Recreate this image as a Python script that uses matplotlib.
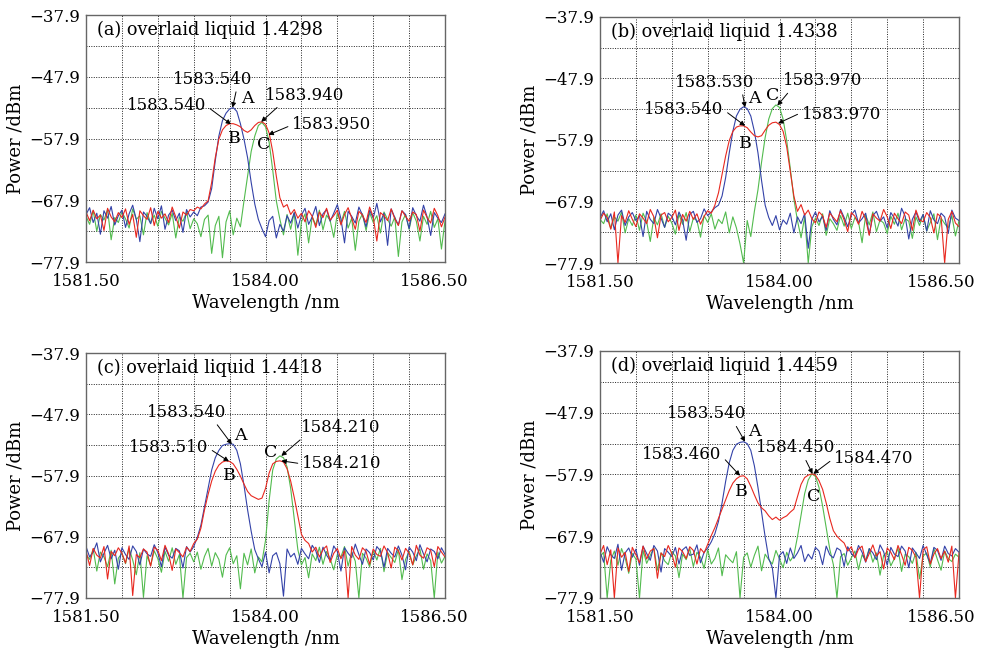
import matplotlib
matplotlib.use('Agg')
import matplotlib.pyplot as plt
import matplotlib.transforms as mtransforms
import numpy as np

plt.rcParams['font.family'] = ['DejaVu Serif']
plt.rcParams['font.size'] = 12

# wavelength grid, 0.05 nm step
wl = np.linspace(1581.5, 1586.5, 101)

# ---- (a) overlaid liquid 1.4298
a_blue = [
    -70.2, -69.1, -71.5, -70.0, -73.4, -69.6, -70.8, -68.9, -71.9, -70.4,
    -69.5, -72.3, -70.1, -68.7, -71.0, -74.6, -69.8, -70.5, -71.7, -69.2,
    -70.9, -68.8, -72.6, -70.3, -69.5, -71.2, -70.0, -73.1, -69.4, -70.6,
    -69.8, -70.4, -69.0, -68.8, -68.2, -66.0, -61.5, -57.5, -55.0, -53.8,
    -53.1, -52.9, -53.5, -55.5, -58.0, -61.0, -65.0, -68.5, -71.0, -72.5,
    -73.8, -71.2, -70.5, -74.0, -71.8, -72.9, -70.4, -71.6, -69.9, -72.4,
    -70.3, -69.2, -71.8, -70.6, -68.9, -72.0, -70.1, -69.4, -71.3, -70.0,
    -68.6, -70.9, -74.8, -69.7, -70.5, -71.6, -69.0, -70.3, -72.2, -69.5,
    -70.8, -68.4, -71.4, -70.0, -75.2, -69.3, -70.7, -71.9, -69.6, -70.2,
    -72.5, -69.1, -70.4, -71.3, -68.7, -70.6, -73.6, -69.9, -70.8, -71.5,
    -70.1]
a_red = [
    -69.8, -71.2, -69.5, -70.9, -70.3, -72.8, -69.2, -70.6, -71.4, -69.9,
    -70.7, -69.3, -71.8, -70.2, -73.9, -69.6, -70.4, -71.0, -69.1, -72.0,
    -69.7, -70.8, -70.1, -71.5, -69.0, -70.6, -72.4, -69.8, -70.3, -69.4,
    -69.6, -69.0, -69.3, -68.5, -68.0, -65.0, -61.0, -58.0, -56.5, -55.8,
    -55.5, -55.5, -55.7, -56.0, -56.6, -56.9, -56.5, -55.8, -55.3, -55.2,
    -55.6, -57.0, -60.0, -64.0, -67.5, -69.0, -68.6, -70.2, -69.4, -70.8,
    -70.0, -71.4, -69.6, -70.5, -72.3, -69.8, -70.7, -69.2, -71.1, -70.4,
    -69.5, -71.9, -70.2, -69.1, -70.8, -72.6, -69.7, -70.3, -71.5, -69.0,
    -70.6, -74.5, -69.9, -70.4, -71.2, -69.3, -70.9, -72.0, -69.6, -70.5,
    -71.3, -69.8, -70.2, -72.9, -69.5, -70.7, -71.6, -69.2, -70.4, -72.2,
    -70.6]
a_green = [
    -70.5, -71.8, -69.6, -72.9, -70.2, -71.1, -69.4, -74.3, -70.7, -71.5,
    -69.8, -70.9, -72.4, -69.3, -71.0, -70.4, -73.5, -69.9, -71.6, -70.3,
    -72.1, -69.7, -70.8, -71.9, -70.0, -74.0, -70.6, -71.3, -69.8, -72.5,
    -70.9, -71.7, -73.8, -71.0, -70.3, -76.5, -72.0, -70.5, -77.2, -71.4,
    -69.6, -73.5, -70.8, -72.2, -68.0, -64.0, -60.0, -57.5, -55.8, -55.3,
    -56.0, -58.5, -63.0, -68.0, -71.0, -73.5, -70.2, -72.6, -69.9, -76.8,
    -71.4, -70.1, -74.8, -70.6, -71.9, -69.5, -72.7, -70.3, -71.2, -73.9,
    -70.0, -71.6, -69.7, -72.4, -70.8, -76.0, -71.3, -70.1, -72.8, -69.9,
    -71.5, -70.4, -73.2, -69.8, -71.0, -72.1, -70.6, -77.0, -71.4, -70.2,
    -72.6, -69.9, -71.3, -74.5, -70.5, -71.8, -69.7, -72.3, -70.9, -75.8,
    -71.2]

# ---- (b) overlaid liquid 1.4338
b_blue = [
    -70.6, -69.4, -71.2, -69.9, -72.5, -70.1, -69.3, -71.8, -70.4, -69.7,
    -71.0, -70.2, -73.6, -69.5, -70.8, -71.5, -69.2, -70.6, -72.1, -69.8,
    -70.3, -71.7, -69.6, -70.9, -74.2, -70.0, -69.5, -71.3, -70.7, -69.1,
    -70.2, -69.6, -68.9, -68.5, -67.0, -64.0, -60.0, -56.5, -54.0, -52.9,
    -52.5, -52.8, -54.0, -56.5, -60.0, -64.5, -68.5, -70.5, -71.8, -70.2,
    -72.5, -70.9, -71.6, -69.8, -73.0, -70.4, -71.5, -69.9, -75.5, -70.8,
    -69.6, -71.2, -70.3, -72.6, -69.4, -70.8, -71.7, -69.2, -70.5, -72.0,
    -70.1, -69.3, -71.4, -70.7, -69.8, -73.3, -70.2, -69.5, -71.1, -70.4,
    -72.2, -69.7, -70.6, -71.9, -69.0, -70.3, -74.0, -70.8, -69.6, -71.2,
    -70.0, -72.7, -69.4, -70.9, -71.5, -69.8, -70.4, -73.1, -69.3, -70.6,
    -71.0]
b_red = [
    -71.0, -69.8, -70.5, -72.4, -69.6, -77.9, -70.2, -71.3, -69.4, -70.8,
    -72.0, -69.9, -70.6, -71.5, -69.2, -70.4, -73.8, -70.1, -69.7, -71.2,
    -70.5, -69.3, -72.6, -70.0, -71.1, -69.5, -70.8, -69.9, -71.6, -70.3,
    -69.4, -69.8, -68.5, -66.5, -63.5, -60.5, -58.0, -56.5, -55.8, -55.6,
    -55.6, -55.9, -56.6, -57.2, -57.4, -57.2, -56.3, -55.5, -55.1, -55.0,
    -55.4, -56.5, -59.0, -63.0, -67.0, -69.5, -68.4, -70.1, -69.3, -70.7,
    -71.4, -69.6, -70.2, -72.1, -69.8, -70.5, -71.2, -69.4, -70.9, -72.8,
    -69.7, -70.3, -71.6, -69.5, -70.8, -73.4, -69.9, -70.6, -71.1, -69.2,
    -70.4, -72.3, -69.8, -70.7, -71.5, -69.6, -70.1, -72.6, -69.3, -70.9,
    -71.2, -69.7, -70.5, -73.0, -69.9, -70.4, -77.9, -70.8, -69.5, -71.4,
    -72.0]
b_green = [
    -70.8, -71.5, -69.9, -72.3, -70.4, -71.1, -69.6, -73.0, -70.7, -71.8,
    -70.1, -72.6, -69.8, -71.2, -74.4, -70.5, -71.7, -69.9, -72.1, -70.3,
    -71.4, -73.2, -70.0, -71.6, -69.7, -72.8, -70.6, -71.0, -73.7, -70.2,
    -71.3, -69.9, -72.4, -70.8, -71.5, -69.6, -73.0, -70.4, -72.2, -74.8,
    -77.9, -71.0, -73.6, -69.5, -66.0, -61.5, -57.5, -54.5, -52.8, -52.2,
    -52.6, -54.5, -58.0, -62.5, -67.5, -71.0, -73.8, -70.4, -77.9, -72.0,
    -70.6, -71.8, -69.9, -73.4, -70.7, -71.5, -72.6, -70.2, -71.9, -69.8,
    -72.3, -70.5, -71.2, -74.6, -70.1, -71.7, -69.6, -72.8, -70.9, -71.4,
    -73.1, -70.3, -71.6, -69.8, -72.5, -70.7, -71.1, -73.9, -70.4, -71.8,
    -70.0, -72.7, -71.3, -69.9, -74.1, -70.6, -71.5, -72.2, -70.2, -73.5,
    -71.0]

# ---- (c) overlaid liquid 1.4418
c_blue = [
    -69.5, -71.2, -70.4, -68.9, -72.0, -70.6, -69.3, -71.5, -70.1, -73.2,
    -69.7, -70.8, -71.6, -69.4, -70.3, -72.5, -69.9, -70.7, -71.1, -69.2,
    -70.5, -72.8, -69.6, -70.9, -71.4, -69.8, -70.2, -73.0, -69.5, -70.4,
    -69.5, -68.0, -66.0, -63.0, -60.0, -57.0, -55.0, -53.8, -53.0, -52.8,
    -52.7, -52.8, -53.8, -56.0, -59.5, -63.5, -67.0, -70.0, -71.5, -72.8,
    -70.4, -73.8, -71.0, -70.5, -72.3, -77.6, -69.9, -71.2, -70.6, -72.4,
    -69.8, -70.7, -71.5, -69.3, -70.2, -72.1, -69.6, -70.9, -71.8, -69.4,
    -70.3, -73.5, -69.7, -70.6, -71.3, -69.1, -70.8, -72.4, -69.9, -70.5,
    -71.7, -69.5, -70.2, -72.9, -69.8, -70.6, -71.2, -69.4, -70.9, -73.3,
    -69.6, -70.4, -71.8, -69.2, -70.7, -72.0, -69.9, -70.3, -71.5, -69.7,
    -70.8]
c_red = [
    -70.2, -72.6, -69.8, -70.9, -71.4, -69.5, -74.8, -70.3, -71.0, -69.7,
    -70.6, -72.2, -69.4, -77.5, -70.8, -71.3, -69.9, -70.4, -72.7, -69.6,
    -70.1, -71.8, -69.3, -70.7, -73.4, -69.9, -70.5, -71.2, -69.6, -70.3,
    -69.0, -68.3, -66.5, -63.5, -61.0, -58.8, -57.2, -56.2, -55.7, -55.5,
    -55.6, -56.0, -56.9, -58.0, -59.3, -60.5, -61.2, -61.5, -61.8, -61.6,
    -60.0, -57.5, -56.0, -55.6, -55.5, -55.7, -56.8, -58.8, -61.5, -64.5,
    -67.5, -68.5, -69.0, -70.4, -69.6, -71.2, -70.0, -69.4, -72.1, -70.6,
    -69.8, -71.5, -70.2, -77.9, -69.5, -70.9, -71.6, -69.7, -70.3, -72.4,
    -69.9, -70.8, -71.1, -69.4, -70.5, -73.0, -69.6, -70.2, -71.7, -69.8,
    -70.6, -72.5, -69.3, -70.9, -71.4, -69.7, -70.1, -72.8, -69.5, -70.4,
    -71.2]
c_green = [
    -70.8, -71.6, -69.9, -73.5, -70.4, -71.2, -72.8, -70.1, -75.6, -71.4,
    -70.6, -72.3, -69.8, -71.7, -74.1, -70.5, -77.8, -71.0, -72.6, -70.2,
    -71.5, -73.7, -70.3, -71.9, -69.7, -72.4, -70.8, -77.9, -71.3, -70.6,
    -72.0, -70.4, -73.2, -71.1, -69.8, -72.7, -70.5, -71.6, -74.5, -70.9,
    -69.7, -72.3, -71.0, -76.4, -70.6, -72.5, -69.9, -73.8, -71.2, -72.0,
    -68.5, -62.0, -57.0, -55.2, -54.7, -55.0, -56.5, -60.0, -65.0, -70.0,
    -72.5, -71.3, -74.6, -70.7, -71.8, -69.6, -72.4, -70.3, -71.5, -73.3,
    -70.8, -71.2, -69.5, -72.7, -70.4, -71.9, -77.9, -70.6, -71.4, -72.8,
    -70.2, -71.7, -69.8, -73.6, -70.5, -71.3, -72.1, -70.0, -74.9, -71.6,
    -70.3, -72.5, -71.0, -69.9, -73.2, -70.7, -71.8, -77.9, -70.4, -72.2,
    -71.1]

# ---- (d) overlaid liquid 1.4459
d_blue = [
    -70.4, -72.1, -69.6, -70.9, -71.5, -69.2, -73.4, -70.6, -69.8, -71.3,
    -70.0, -72.6, -69.5, -70.7, -71.8, -69.4, -70.3, -73.7, -69.9, -70.5,
    -71.2, -69.7, -72.4, -70.1, -69.6, -71.0, -70.8, -69.3, -72.2, -70.5,
    -69.8, -68.8, -67.5, -65.5, -62.5, -59.0, -56.0, -54.0, -53.0, -52.7,
    -52.6, -52.9, -54.0, -56.5, -60.0, -64.0, -68.0, -71.5, -73.0, -77.9,
    -71.0, -70.4, -72.3, -69.8, -71.5, -70.6, -69.4, -72.0, -70.8, -71.6,
    -69.7, -70.3, -72.5, -69.5, -70.9, -71.4, -69.8, -70.2, -72.8, -69.6,
    -70.7, -71.3, -69.4, -70.5, -72.1, -69.9, -70.6, -71.7, -69.3, -70.4,
    -72.6, -69.7, -70.8, -71.2, -69.5, -70.3, -73.0, -69.8, -70.6, -71.5,
    -69.4, -70.9, -72.3, -69.7, -70.2, -71.8, -69.5, -70.7, -71.1, -69.9,
    -70.5]
d_red = [
    -70.8, -69.4, -72.5, -70.1, -77.9, -69.8, -71.3, -70.5, -73.6, -69.7,
    -70.9, -72.2, -69.5, -71.6, -70.3, -69.9, -74.7, -70.6, -71.2, -69.4,
    -70.7, -72.9, -69.8, -70.4, -71.5, -69.6, -70.2, -72.4, -69.9, -70.6,
    -69.2, -67.8, -66.5, -65.0, -63.5, -62.0, -60.5, -59.3, -58.6, -58.2,
    -58.1, -58.6, -59.8, -61.2, -62.5, -63.3, -63.8, -64.6, -65.2, -64.8,
    -65.3, -64.9, -64.6, -64.0, -63.5, -61.5, -59.5, -58.4, -58.0, -57.8,
    -58.0, -58.9, -60.3, -62.5, -65.0, -67.0, -67.9, -68.5, -69.0, -70.3,
    -69.6, -71.4, -70.0, -69.5, -72.0, -70.7, -69.3, -71.1, -70.4, -73.2,
    -69.8, -70.5, -71.7, -69.4, -70.9, -72.6, -69.7, -70.2, -71.3, -77.9,
    -70.1, -69.6, -72.4, -70.8, -69.9, -71.5, -70.3, -72.1, -69.5, -77.9,
    -70.6]
d_green = [
    -71.2, -70.5, -77.9, -71.8, -70.3, -72.6, -69.9, -71.4, -73.9, -70.7,
    -71.6, -77.9, -70.2, -72.3, -71.0, -69.8, -73.4, -70.6, -71.9, -72.5,
    -70.4, -71.1, -74.6, -70.8, -71.7, -69.9, -72.8, -70.5, -71.3, -73.1,
    -70.1, -72.4, -71.5, -69.8, -74.3, -70.9, -71.6, -72.2, -70.4, -77.9,
    -71.3, -70.6, -72.9, -71.0, -69.5, -73.5, -70.8, -71.7, -72.4, -70.2,
    -71.6, -73.0, -70.5, -71.9, -71.0, -68.0, -64.5, -61.0, -58.8, -57.8,
    -58.2, -60.0, -63.0, -66.5, -70.0, -72.5, -77.9, -71.2, -70.7, -72.6,
    -71.4, -70.3, -73.3, -70.9, -71.8, -69.9, -72.1, -70.6, -74.2, -71.0,
    -70.4, -72.7, -71.5, -69.8, -73.6, -70.8, -71.2, -72.3, -70.5, -74.8,
    -71.1, -70.6, -72.9, -69.9, -71.7, -73.4, -70.3, -71.5, -72.0, -70.8,
    -71.3]

titles = ['(a) overlaid liquid 1.4298', '(b) overlaid liquid 1.4338',
          '(c) overlaid liquid 1.4418', '(d) overlaid liquid 1.4459']
blues = [a_blue, b_blue, c_blue, d_blue]
reds = [a_red, b_red, c_red, d_red]
greens = [a_green, b_green, c_green, d_green]

x_ticks = [1581.5, 1584.0, 1586.5]
x_tick_labels = ['1581.50', '1584.00', '1586.50']
y_ticks = [-77.9, -67.9, -57.9, -47.9, -37.9]
y_tick_labels = ['\u221277.9', '\u221267.9', '\u221257.9', '\u221247.9', '\u221237.9']

# peak labels: text, peak (x, y), text centre (x, y), arrow start on text box
notes = [
    [('1583.540', (1583.54, -52.9), (1583.27, -48.3), (0.8, 0.0)),
     ('1583.540', (1583.52, -55.6), (1582.62, -52.6), (1.0, 0.5)),
     ('1583.940', (1583.94, -55.2), (1584.55, -50.9), (0.2, 0.0)),
     ('1583.950', (1584.04, -57.3), (1584.92, -55.7), (0.0, 0.5))],
    [('1583.530', (1583.52, -52.6), (1583.09, -48.5), (0.85, 0.0)),
     ('1583.540', (1583.52, -55.6), (1582.67, -53.0), (1.0, 0.5)),
     ('1583.970', (1583.97, -52.3), (1584.60, -48.3), (0.1, 0.0)),
     ('1583.970', (1583.98, -55.2), (1584.86, -53.7), (0.0, 0.6))],
    [('1583.540', (1583.53, -52.8), (1582.90, -47.6), (0.85, 0.0)),
     ('1583.510', (1583.49, -55.6), (1582.65, -53.4), (1.0, 0.5)),
     ('1584.210', (1584.22, -54.7), (1585.04, -50.1), (0.05, 0.0)),
     ('1584.210', (1584.22, -55.5), (1585.06, -56.0), (0.0, 0.5))],
    [('1583.540', (1583.52, -52.6), (1582.98, -48.1), (0.85, 0.0)),
     ('1583.460', (1583.45, -58.1), (1582.64, -54.6), (1.0, 0.4)),
     ('1584.450', (1584.46, -57.8), (1584.23, -53.6), (0.6, 0.0)),
     ('1584.470', (1584.47, -57.8), (1585.31, -55.3), (0.0, 0.5))],
]
letters = [
    [('A', 1583.74, -51.5), ('B', 1583.56, -57.9), ('C', 1583.97, -58.9)],
    [('A', 1583.65, -51.2), ('B', 1583.53, -58.4), ('C', 1583.90, -50.6)],
    [('A', 1583.65, -51.3), ('B', 1583.50, -57.9), ('C', 1584.07, -54.1)],
    [('A', 1583.65, -51.0), ('B', 1583.47, -60.6), ('C', 1584.47, -61.4)],
]

# axes boxes in figure fractions
boxes = [[0.0876, 0.6018, 0.3656, 0.3754],
         [0.6110, 0.6003, 0.3656, 0.3739],
         [0.0876, 0.0912, 0.3656, 0.3723],
         [0.6110, 0.0912, 0.3656, 0.3754]]
# the last x tick label sits left of its tick in the original
last_shift = [-11, -18, -11, -18]

fig = plt.figure(figsize=(9.82, 6.58), dpi=100)

for k in range(4):
    ax = fig.add_axes(boxes[k])
    ax.plot(wl, greens[k], color='#52bb4e', lw=0.8)
    ax.plot(wl, blues[k], color='#3342a8', lw=0.8)
    ax.plot(wl, reds[k], color='#e8281f', lw=0.8)

    ax.set_xlim(1581.5, 1586.5)
    ax.set_ylim(-77.9, -37.9)
    ax.set_xticks(x_ticks)
    ax.set_xticklabels(x_tick_labels)
    ax.set_xticks(np.arange(1582.0, 1586.5, 0.5), minor=True)
    ax.set_yticks(y_ticks)
    ax.set_yticklabels(y_tick_labels)
    ax.set_yticks([-72.9, -62.9, -52.9, -42.9], minor=True)
    ax.tick_params(which='both', length=0)
    ax.tick_params(axis='x', pad=8)
    ax.tick_params(axis='y', pad=4)
    ax.grid(which='both', color='#222222', linestyle=(0, (1, 1.5)), lw=0.7)
    for s in ax.spines.values():
        s.set_color('#666666')
        s.set_linewidth(1.0)

    lab = ax.xaxis.get_major_ticks()[-1].label1
    lab.set_transform(lab.get_transform() +
                      mtransforms.ScaledTranslation(last_shift[k] / 100, 0,
                                                    fig.dpi_scale_trans))

    ax.set_xlabel('Wavelength /nm', fontsize=13, labelpad=3)
    ax.set_ylabel('Power /dBm', fontsize=13, labelpad=4)
    ax.text(0.03, 0.94, titles[k], transform=ax.transAxes, fontsize=12.7,
            ha='left', va='center')

    for txt, xy, xyt, rp in notes[k]:
        ax.annotate(txt, xy=xy, xytext=xyt, ha='center', va='center',
                    fontsize=12,
                    arrowprops=dict(arrowstyle='-|>', color='black', lw=0.7,
                                    mutation_scale=7, shrinkA=1, shrinkB=0,
                                    relpos=rp))
    for ch, lx, ly in letters[k]:
        ax.text(lx, ly, ch, ha='center', va='center', fontsize=12.5)

fig.savefig('out.png', dpi=100)
